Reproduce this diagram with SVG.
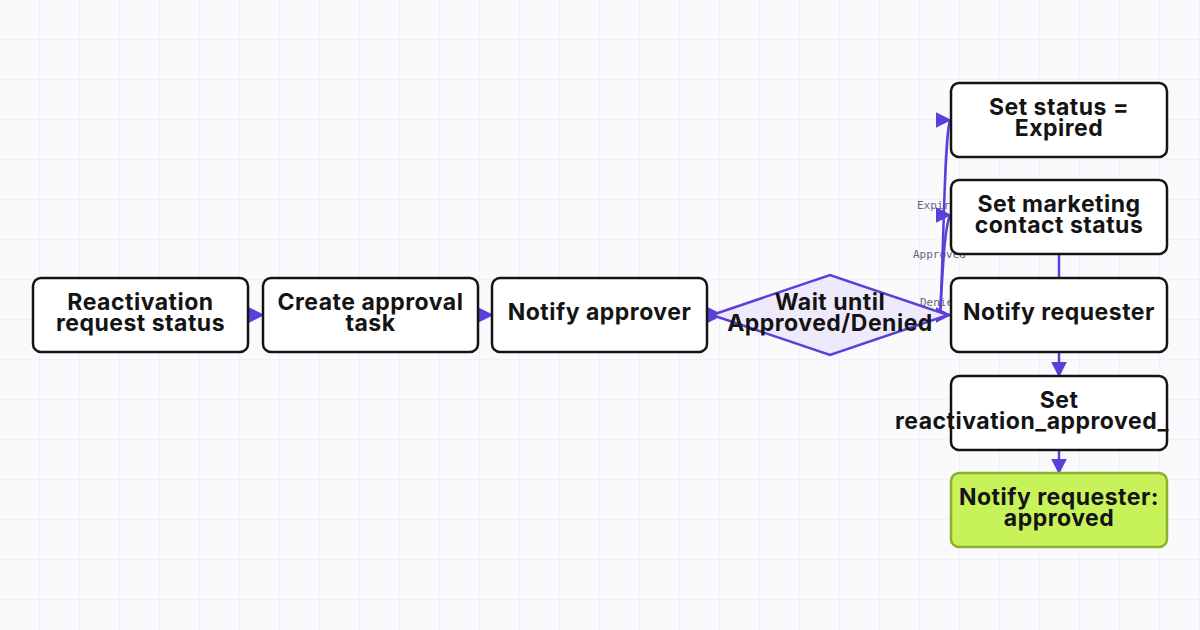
<svg xmlns="http://www.w3.org/2000/svg" width="1200" height="630" viewBox="0 0 1200 630">
<defs>
<pattern id="grid" width="40" height="40" patternUnits="userSpaceOnUse"><path d="M40 0V40M0 40H40" fill="none" stroke="#e8e8f6" stroke-width="1"/></pattern>
<marker id="ah" viewBox="0 0 10 10" refX="9" refY="5" markerWidth="16" markerHeight="16" markerUnits="userSpaceOnUse" orient="auto"><path d="M0 0L10 5L0 10Z" fill="#5a3fd8"/></marker>
<marker id="ah0" viewBox="0 0 10 10" refX="9" refY="5" markerWidth="16" markerHeight="16" markerUnits="userSpaceOnUse" orient="0"><path d="M0 0L10 5L0 10Z" fill="#5a3fd8"/></marker>
</defs>
<style>
.n{fill:#fff;stroke:#141414;stroke-width:2.5}
.t{font-family:Inter,"Noto Sans",sans-serif;font-weight:700;font-size:23px;fill:#141414;text-anchor:middle;letter-spacing:0.5px}
.e{fill:none;stroke:#5a3fd8;stroke-width:2.5}
.l{font-family:"DejaVu Sans Mono",monospace;font-size:11px;fill:#666677}
</style>
<rect width="1200" height="630" fill="#fafafd"/>
<rect width="1200" height="630" fill="url(#grid)"/>
<g id="labels">
<text class="l" x="917" y="209">Expired</text>
<text class="l" x="913" y="258">Approved</text>
<text class="l" x="920" y="306">Denied</text>
</g>
<g id="connectors">
<path class="e" d="M248 315H263" marker-end="url(#ah)"/>
<path class="e" d="M478 315H492" marker-end="url(#ah)"/>
<path class="e" d="M707 315H722" marker-end="url(#ah)"/>
<path class="e" d="M940 315C944 250 944 140 950 120" marker-end="url(#ah0)"/>
<path class="e" d="M940 315C943 270 944 230 950 215" marker-end="url(#ah0)"/>
<path class="e" d="M935 315H950" marker-end="url(#ah)"/>
<path class="e" d="M1059 254V278"/>
<path class="e" d="M1059 352V376" marker-end="url(#ah)"/>
<path class="e" d="M1059 450V473" marker-end="url(#ah)"/>
</g>
<g id="n1"><rect class="n" x="33" y="278" width="215" height="74" rx="8"/><text class="t" x="140.5" y="310">Reactivation</text><text class="t" x="140.5" y="331">request status</text></g>
<g id="n2"><rect class="n" x="263" y="278" width="215" height="74" rx="8"/><text class="t" x="370.5" y="310">Create approval</text><text class="t" x="370.5" y="331">task</text></g>
<g id="n3"><rect class="n" x="492" y="278" width="215" height="74" rx="8"/><text class="t" x="599.5" y="320">Notify approver</text></g>
<g id="n4"><path d="M712 315L830 275L948 315L830 355Z" fill="#eeeafc" stroke="#5a3fd8" stroke-width="2.5"/><text class="t" x="830" y="310">Wait until</text><text class="t" x="830" y="331">Approved/Denied</text></g>
<g id="n5"><rect class="n" x="951" y="83" width="216" height="74" rx="8"/><text class="t" x="1059" y="115">Set status =</text><text class="t" x="1059" y="136">Expired</text></g>
<g id="n6"><rect class="n" x="951" y="180" width="216" height="74" rx="8"/><text class="t" x="1059" y="212">Set marketing</text><text class="t" x="1059" y="233">contact status</text></g>
<g id="n7"><rect class="n" x="951" y="278" width="216" height="74" rx="8"/><text class="t" x="1059" y="320">Notify requester</text></g>
<g id="n8"><rect class="n" x="951" y="376" width="216" height="74" rx="8"/><text class="t" x="1059" y="408">Set</text><text class="t" x="1032" y="429">reactivation_approved_</text></g>
<g id="n9"><rect x="951" y="473" width="216" height="74" rx="8" fill="#c8f25a" stroke="#8db02a" stroke-width="2.5"/><text class="t" x="1059" y="505">Notify requester:</text><text class="t" x="1059" y="526">approved</text></g>
</svg>
